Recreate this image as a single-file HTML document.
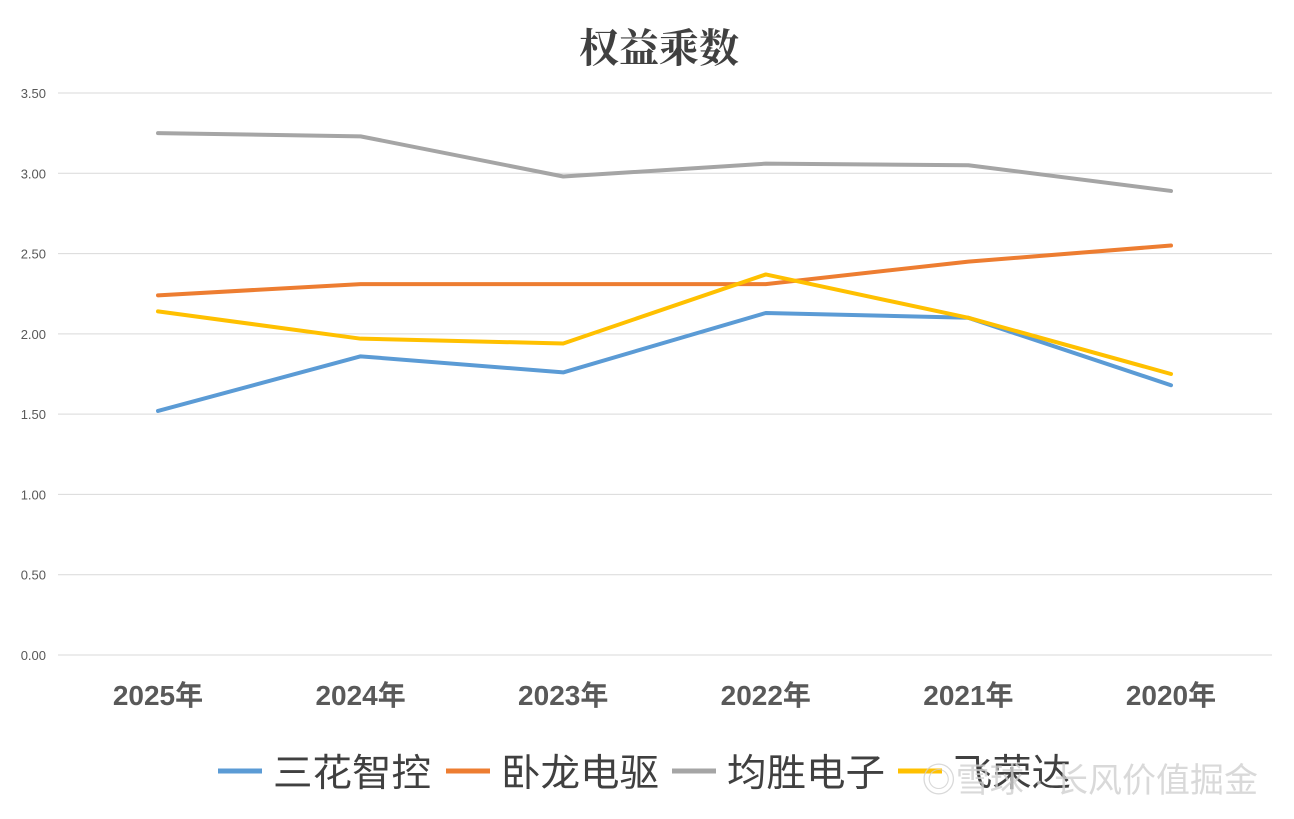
<!DOCTYPE html>
<html><head><meta charset="utf-8"><style>
body{margin:0;background:#fff;}
svg{display:block;font-family:"Liberation Sans","Noto Sans CJK SC",sans-serif;}
</style></head><body>
<svg id="chart" width="1294" height="819">
<text x="659" y="62" text-anchor="middle" font-size="40" font-weight="bold" fill="#404040" font-family="'Noto Serif CJK SC',serif">权益乘数</text>
<g id="grid"></g><g id="series"></g><g id="legend"></g>
<text x="1258" y="792" text-anchor="end" font-size="34" fill="#d0d0d0" opacity="0.8">◎雪球 · 长风价值掘金</text>
</svg>
<script>
const categories=["2025年","2024年","2023年","2022年","2021年","2020年"];
const seriesNames=["三花智控","卧龙电驱","均胜电子","飞荣达"];
const sanhua=[1.52,1.86,1.76,2.13,2.10,1.68];
const wolong=[2.24,2.31,2.31,2.31,2.45,2.55];
const junsheng=[3.25,3.23,2.98,3.06,3.05,2.89];
const feirongda=[2.14,1.97,1.94,2.37,2.10,1.75];
const yTicks=[0,0.5,1,1.5,2,2.5,3,3.5];
const colors=["#5b9bd5","#ed7d31","#a5a5a5","#ffc000"];
const NS="http://www.w3.org/2000/svg";
const y=v=>655-v*(562/3.5);
const x=i=>158+i*202.6;
function mk(t,a,p){const e=document.createElementNS(NS,t);for(const k in a)e.setAttribute(k,a[k]);p.appendChild(e);return e;}
const g=document.getElementById('grid');
yTicks.forEach(v=>{
 const l=mk('line',{x1:58,x2:1272,y1:y(v),y2:y(v),stroke:'#d9d9d9','stroke-width':1},g);
 
 
 const t=mk('text',{x:46,y:y(v)+5,'text-anchor':'end','font-size':13,fill:'#595959'},g);
 t.textContent=v.toFixed(2);
 
 
});
categories.forEach((c,i)=>{
 const t=mk('text',{x:x(i),y:705,'text-anchor':'middle','font-size':28,'font-weight':'bold',fill:'#595959'},g);
 t.textContent=c;
 
 
});
const s=document.getElementById('series');
[sanhua,wolong,junsheng,feirongda].forEach((d,k)=>{
 const p=mk('polyline',{points:d.map((v,i)=>x(i)+','+y(v)).join(' '),fill:'none',stroke:colors[k],'stroke-width':4,'stroke-linejoin':'round','stroke-linecap':'round'},s);
 
 
});
const lg=document.getElementById('legend');
const lx=[218,446,672,898];
seriesNames.forEach((n,k)=>{
 const l=mk('line',{x1:lx[k],x2:lx[k]+44,y1:771,y2:771,stroke:colors[k],'stroke-width':5},lg);
 
 
 const t=mk('text',{x:lx[k]+55,y:786,'font-size':38,fill:'#404040',textLength:158,lengthAdjust:'spacingAndGlyphs'},lg);
 if(n.length===3)t.setAttribute('textLength',118);
 t.textContent=n;
 
 
});
</script>
</body></html>
